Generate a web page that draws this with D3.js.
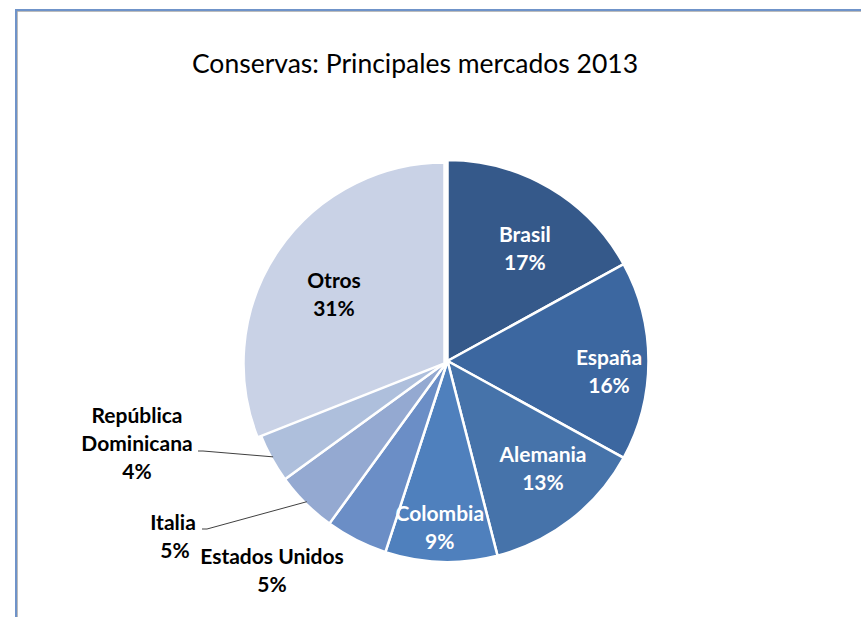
<!DOCTYPE html>
<html><head><meta charset="utf-8">
<script src="https://cdn.jsdelivr.net/npm/d3@7"></script>
<style>body{margin:0;background:#fff}svg{display:block}</style>
</head><body>
<script>
const categories = ["Brasil","España","Alemania","Colombia","Estados Unidos","Italia","República Dominicana","Otros"];
const values = [17,16,13,9,5,5,4,31];
const colors = ["#35598a","#3c67a0","#4673aa","#4f80bd","#6b8ec6","#94a9d1","#aebfdc","#c9d2e6"];
const title = "Conservas: Principales mercados 2013";

const W = 861, H = 617;
const cx = 447.5, cy = 361, R = 201;
const svg = d3.select("body").append("svg").attr("width", W).attr("height", H);
const font = "Lato, 'Open Sans', sans-serif";
const labelSize = 21;

// frame
svg.append("rect").attr("x", 17).attr("y", 11).attr("width", 900).attr("height", 700)
  .attr("fill", "none").attr("stroke", "#a6a6a6").attr("stroke-width", 1.5);
svg.append("rect").attr("x", 16).attr("y", 10).attr("width", 900).attr("height", 700)
  .attr("fill", "none").attr("stroke", "#6f93c9").attr("stroke-width", 2);

svg.append("text").attr("x", 415).attr("y", 73).attr("text-anchor", "middle")
  .attr("font-family", font).attr("font-size", 26.5).attr("fill", "#000").text(title);

const data = categories.map((c, i) => ({name: c, value: values[i], color: colors[i]}));
const pie = d3.pie().value(d => d.value).sort(null);
const arcs = pie(data);
const arc = d3.arc().innerRadius(0).outerRadius(R);
const g = svg.append("g").attr("transform", `translate(${cx},${cy})`);

g.selectAll("path").data(arcs).join("path")
  .attr("d", arc)
  .attr("fill", d => d.data.color)
  .attr("stroke", "#fff")
  .attr("stroke-width", 2.5)
  .attr("transform", d => d.data.name === "Otros" ? "translate(-3,2.5)" : null);

// inside labels
const labelArc = d3.arc().innerRadius(150).outerRadius(150);
const inside = ["Brasil","España","Alemania","Colombia","Otros"];
const insideAdj = {"Brasil":[1,10],"España":[11.5,4],"Alemania":[3.5,-17.5],"Colombia":[-3,10],"Otros":[10.5,11]};
arcs.filter(a => inside.includes(a.data.name)).forEach(a => {
  const [x, y] = labelArc.centroid(a);
  const [ax, ay] = insideAdj[a.data.name];
  const t = g.append("text").attr("text-anchor", "middle").attr("font-family", font)
    .attr("font-weight", "bold").attr("font-size", labelSize)
    .attr("fill", a.data.name === "Otros" ? "#000" : "#fff");
  t.append("tspan").attr("x", x + ax).attr("y", y + ay).text(a.data.name);
  t.append("tspan").attr("x", x + ax).attr("y", y + ay + 28).text(a.data.value + "%");
});

// outside labels (positions relative to pie center)
const outside = {
  "Estados Unidos": {lines:["Estados Unidos"], at:[-175.5, 203]},
  "Italia": {lines:["Italia"], at:[-274.5, 169], pctDx: 2},
  "República Dominicana": {lines:["República","Dominicana"], at:[-310.5, 62]}
};
arcs.filter(a => outside[a.data.name]).forEach(a => {
  const o = outside[a.data.name];
  const t = g.append("text").attr("text-anchor", "middle").attr("font-family", font)
    .attr("font-weight", "bold").attr("font-size", labelSize).attr("fill", "#000");
  o.lines.forEach((l, i) => t.append("tspan").attr("x", o.at[0]).attr("y", o.at[1] + i * 28).text(l));
  t.append("tspan").attr("x", o.at[0] + (o.pctDx || 0)).attr("y", o.at[1] + o.lines.length * 28).text(a.data.value + "%");
});

// leader lines
function leaderTo(name, sx, sy) {
  const a = arcs.find(d => d.data.name === name);
  const ang = (a.startAngle + a.endAngle) / 2;
  const r = R * 0.99;
  const ex = Math.sin(ang) * r, ey = -Math.cos(ang) * r;
  g.append("polyline").attr("points", `${sx},${sy} ${sx + 5},${sy} ${ex},${ey}`)
    .attr("fill", "none").attr("stroke", "#404040").attr("stroke-width", 1);
}
leaderTo("República Dominicana", -249.5, 90);
leaderTo("Italia", -245.5, 168);
</script>
</body></html>
